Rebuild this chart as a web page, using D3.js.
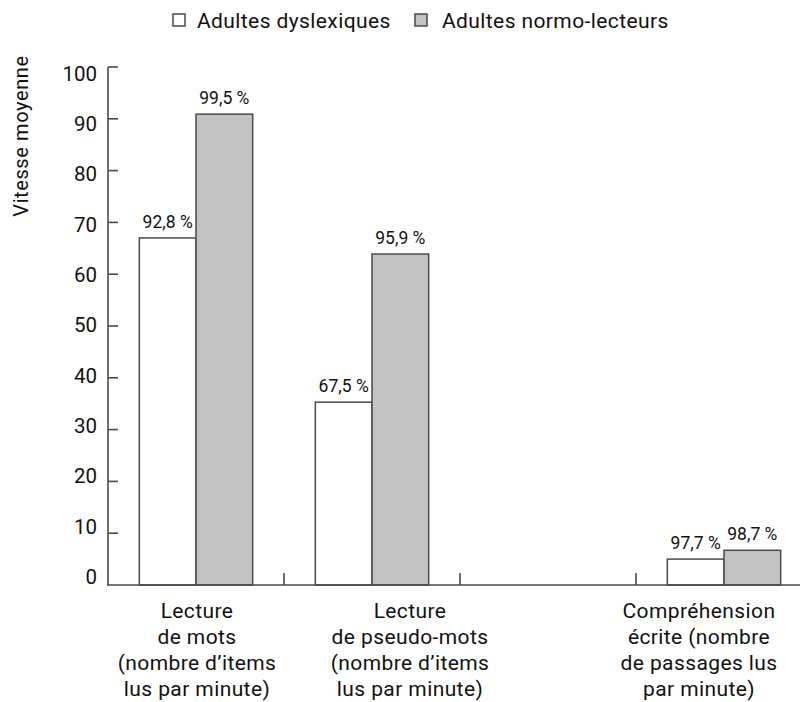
<!DOCTYPE html>
<html lang="fr">
<head>
<meta charset="utf-8">
<script src="https://cdn.jsdelivr.net/npm/d3@7"></script>
<style>
  html, body { margin: 0; padding: 0; background: #fff; }
  svg { display: block; font-family: Roboto, "Noto Sans", sans-serif; }
</style>
</head>
<body>
<svg id="chart" width="803" height="702"></svg>
<script>
// Reading speed by task, dyslexic vs typical adult readers
const categories = ["mots", "pseudo", "comprehension"];
const categoryLines = [
  ["Lecture", "de mots", "(nombre d\u2019items", "lus par minute)"],
  ["Lecture", "de pseudo-mots", "(nombre d\u2019items", "lus par minute)"],
  ["Compr\u00e9hension", "\u00e9crite (nombre", "de passages lus", "par minute)"]
];
const seriesNames = ["Adultes dyslexiques", "Adultes normo-lecteurs"];
const dyslexicSpeed = [67, 35.3, 5];
const normoSpeed = [90.9, 63.9, 6.7];
const dyslexicAccuracy = ["92,8 %", "67,5 %", "97,7 %"];
const normoAccuracy = ["99,5 %", "95,9 %", "98,7 %"];
const yTicks = [0, 10, 20, 30, 40, 50, 60, 70, 80, 90, 100];
const yTitle = "Vitesse moyenne";

const svg = d3.select("#chart");
const axisColor = "#4a4a4a";
const textColor = "#111";
const fills = ["#ffffff", "#c3c3c3"];

// slots along the x axis: the third one is left empty
const slots = ["mots", "pseudo", "gap", "comprehension"];
const x = d3.scaleBand().domain(slots).range([108, 812]).paddingInner(0).paddingOuter(0);
const bw = x.bandwidth();
const xs = d3.scaleBand().domain(seriesNames).range([bw * 0.178, bw * 0.822]);
const y = d3.scaleLinear().domain([0, 100]).range([585, 67]);
// tick numbers sit on a slightly tighter spacing than the tick marks
const yLab = d3.scaleLinear().domain([0, 100]).range([576.5, 73.5]);
const labelShift = [1, 38, -25];

const rows = categories.map((c, i) => ({
  key: c,
  values: [
    { s: seriesNames[0], v: dyslexicSpeed[i], label: dyslexicAccuracy[i] },
    { s: seriesNames[1], v: normoSpeed[i], label: normoAccuracy[i] }
  ]
}));

// bars
const groups = svg.append("g").selectAll("g").data(rows).join("g")
  .attr("transform", d => `translate(${x(d.key)},0)`);

groups.selectAll("rect").data(d => d.values).join("rect")
  .attr("x", d => xs(d.s))
  .attr("y", d => y(d.v))
  .attr("width", xs.bandwidth())
  .attr("height", d => y(0) - y(d.v))
  .attr("fill", (d, i) => fills[i])
  .attr("stroke", axisColor)
  .attr("stroke-width", 1.5);

groups.selectAll("text").data(d => d.values).join("text")
  .attr("x", d => xs(d.s) + xs.bandwidth() / 2)
  .attr("y", d => y(d.v) - 10)
  .attr("text-anchor", "middle")
  .attr("font-size", 17.5)
  .attr("fill", textColor)
  .text(d => d.label);

// y axis
const yAxis = svg.append("g");
yAxis.append("line")
  .attr("x1", 108).attr("x2", 108)
  .attr("y1", y(100)).attr("y2", y(0))
  .attr("stroke", axisColor).attr("stroke-width", 1.6);
yAxis.selectAll("line.tick").data(yTicks.filter(t => t > 0)).join("line")
  .attr("class", "tick")
  .attr("x1", 108).attr("x2", 118)
  .attr("y1", d => y(d)).attr("y2", d => y(d))
  .attr("stroke", axisColor).attr("stroke-width", 1.6);
yAxis.selectAll("text").data(yTicks).join("text")
  .attr("x", 97)
  .attr("y", d => yLab(d))
  .attr("dy", "0.36em")
  .attr("text-anchor", "end")
  .attr("font-size", 20.5)
  .attr("fill", textColor)
  .text(d => d);

svg.append("text")
  .attr("transform", "translate(28,136) rotate(-90)")
  .attr("text-anchor", "middle")
  .attr("font-size", 20)
  .attr("letter-spacing", 0.6)
  .attr("fill", textColor)
  .text(yTitle);

// x axis
const xAxis = svg.append("g");
xAxis.append("line")
  .attr("x1", 107).attr("x2", 800)
  .attr("y1", y(0)).attr("y2", y(0))
  .attr("stroke", axisColor).attr("stroke-width", 1.6);
xAxis.selectAll("line.tick").data(slots.slice(1)).join("line")
  .attr("class", "tick")
  .attr("x1", d => x(d)).attr("x2", d => x(d))
  .attr("y1", y(0)).attr("y2", y(0) - 12)
  .attr("stroke", axisColor).attr("stroke-width", 1.6);

const catLabels = xAxis.selectAll("text").data(rows).join("text")
  .attr("text-anchor", "middle")
  .attr("font-size", 21)
  .attr("letter-spacing", 0.4)
  .attr("fill", textColor);
catLabels.each(function (d, i) {
  const cx = x(d.key) + bw / 2 + labelShift[i];
  d3.select(this).selectAll("tspan").data(categoryLines[i]).join("tspan")
    .attr("x", cx)
    .attr("y", (t, j) => 618 + j * 26)
    .text(t => t);
});

// legend
const legendPos = [{ sx: 173, tx: 197 }, { sx: 415, tx: 442 }];
const legend = svg.append("g").selectAll("g").data(seriesNames).join("g");
legend.append("rect")
  .attr("x", (d, i) => legendPos[i].sx)
  .attr("y", 14)
  .attr("width", 12).attr("height", 12)
  .attr("fill", (d, i) => fills[i])
  .attr("stroke", axisColor).attr("stroke-width", 1.5);
legend.append("text")
  .attr("x", (d, i) => legendPos[i].tx)
  .attr("y", 27.5)
  .attr("font-size", 21)
  .attr("letter-spacing", 0.4)
  .attr("fill", textColor)
  .text(d => d);
</script>
</body>
</html>
